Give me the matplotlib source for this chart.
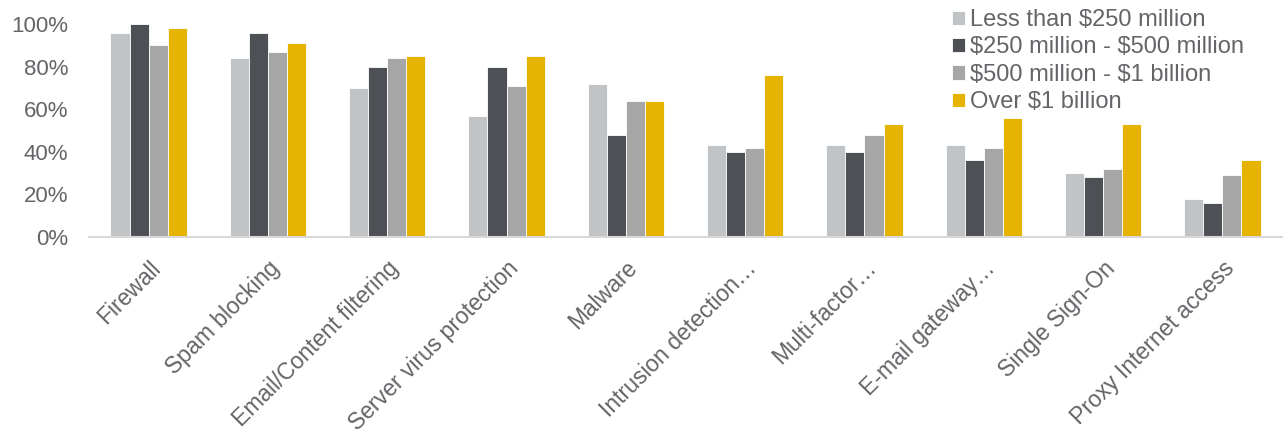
import numpy as np
import matplotlib.pyplot as plt
from matplotlib.ticker import PercentFormatter

categories = ['Firewall', 'Spam blocking', 'Email/Content filtering',
              'Server virus protection', 'Malware', 'Intrusion detection…',
              'Multi-factor…', 'E-mail gateway…', 'Single Sign-On',
              'Proxy Internet access']
series_names = ['Less than \\$250 million', '\\$250 million - \\$500 million',
                '\\$500 million - \\$1 billion', 'Over \\$1 billion']
less_250m = [96, 84, 70, 57, 72, 43, 43, 43, 30, 18]
m250_500 = [100, 96, 80, 80, 48, 40, 40, 36, 28, 16]
m500_1b = [90, 87, 84, 71, 64, 42, 48, 42, 32, 29]
over_1b = [98, 91, 85, 85, 64, 76, 53, 56, 53, 36]
colors = ['#C1C4C6', '#4D5055', '#A6A6A6', '#E6B300']
text_col = '#646469'

plt.rcParams['font.family'] = ['Liberation Sans', 'DejaVu Sans']

fig = plt.figure(figsize=(12.86, 4.37), dpi=100)
ax = fig.add_axes([89 / 1286, 1 - 237 / 437, (1282 - 89) / 1286, (237 - 24) / 437])

x = np.arange(len(categories))
w = 0.16
for i, vals in enumerate([less_250m, m250_500, m500_1b, over_1b]):
    ax.bar(x + (i - 1.5) * w, vals, w, color=colors[i], label=series_names[i],
           edgecolor='white', linewidth=0.6)

ax.set_xlim(-0.5, len(categories) - 0.5)
ax.set_ylim(0, 100)
ax.set_yticks(range(0, 101, 20))
ax.yaxis.set_major_formatter(PercentFormatter(decimals=0))
ax.set_xticks(x)
ax.set_xticklabels(categories, rotation=45, ha='right', rotation_mode='anchor')
ax.tick_params(axis='x', length=0, labelsize=16.5, colors=text_col, pad=14)
ax.tick_params(axis='y', length=0, labelsize=16, colors=text_col, pad=15)
for s in ['top', 'right', 'left']:
    ax.spines[s].set_visible(False)
ax.spines['bottom'].set_color('#D9D9D9')
ax.spines['bottom'].set_linewidth(1.5)

leg = ax.legend(loc='upper left', frameon=False,
                fontsize=17, handlelength=0.55, handleheight=0.55,
                handletextpad=0.2, labelspacing=0.23, borderaxespad=0,
                borderpad=0)
for t in leg.get_texts():
    t.set_color(text_col)
leg.set_bbox_to_anchor((952 / 1286, 1 - 9 / 437), transform=fig.transFigure)

fig.savefig('out.png', dpi=100)
